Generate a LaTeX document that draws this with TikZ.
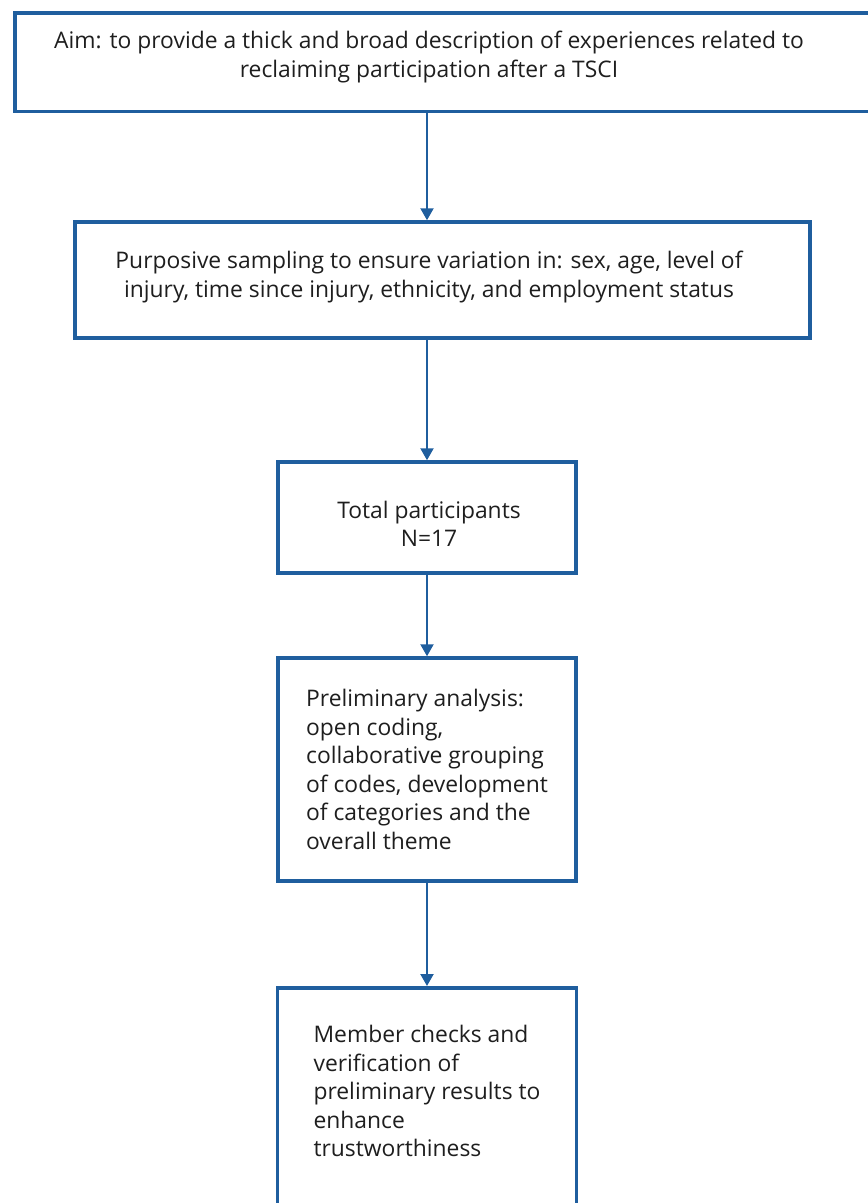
\documentclass[tikz,border=0pt]{standalone}
\usepackage{fontspec}
\setmainfont{Open Sans}
\usepackage{xcolor}
\usetikzlibrary{positioning, arrows.meta}
\definecolor{flowblue}{RGB}{31,94,158}
\definecolor{flowtext}{RGB}{30,30,30}

\begin{document}
\begin{tikzpicture}[x=0.02cm, y=-0.02cm,
    frame/.style={rectangle, draw=flowblue, line width=2pt, fill=none,
                  minimum width=#1, inner sep=0pt},
    frame/.default={5.96cm},
    txt/.style={font=\fontsize{13}{16.2}\selectfont, text=flowtext, inner sep=0pt},
    arr/.style={-{Triangle[length=0.24cm, width=0.26cm]}, line width=1.2pt, draw=flowblue, fill=flowblue},
  ]
    \useasboundingbox (0,0) rectangle (868,1203);

    % Aim (box runs off the right edge)
    \node[frame=17.5cm, minimum height=1.98cm, anchor=north west] (aimbox) at (13,11) {};
    \node[txt, align=center] (aim) at (429,57) {Aim: to provide a thick and broad description of experiences related to\\reclaiming participation after a TSCI};

    % Sampling
    \node[frame=14.7cm, minimum height=2.32cm] (sampbox) at (442.5,280) {};
    \node[txt, align=center] (samp) at (429,277) {Purposive sampling to ensure variation in: sex, age, level of\\injury, time since injury, ethnicity, and employment status};

    % Participants
    \node[frame, minimum height=2.22cm] (total) at (427,517.5) {};
    \node[txt, align=center] (totaltxt) at (429,524) {Total participants\\N=17};

    % Analysis
    \node[frame, txt, align=left, minimum height=4.46cm] (analysis) at (427,769.5) {Preliminary analysis:\\open coding,\\collaborative grouping\\of codes, development\\of categories and the\\overall theme};

    % Member checks (box runs off the bottom edge)
    \node[frame=5.98cm, minimum height=5cm, anchor=north] (memberbox) at (427,986) {};
    \node[txt, align=left] (member) at (427,1091) {Member checks and\\verification of\\preliminary results to\\enhance\\trustworthiness};

    % Arrows
    \draw[arr] (total |- aimbox.south) -- (total |- sampbox.north);
    \draw[arr] (total |- sampbox.south) -- (total.north);
    \draw[arr] (total.south) -- (analysis.north);
    \draw[arr] (analysis.south) -- (memberbox.north);

\end{tikzpicture}
\end{document}
